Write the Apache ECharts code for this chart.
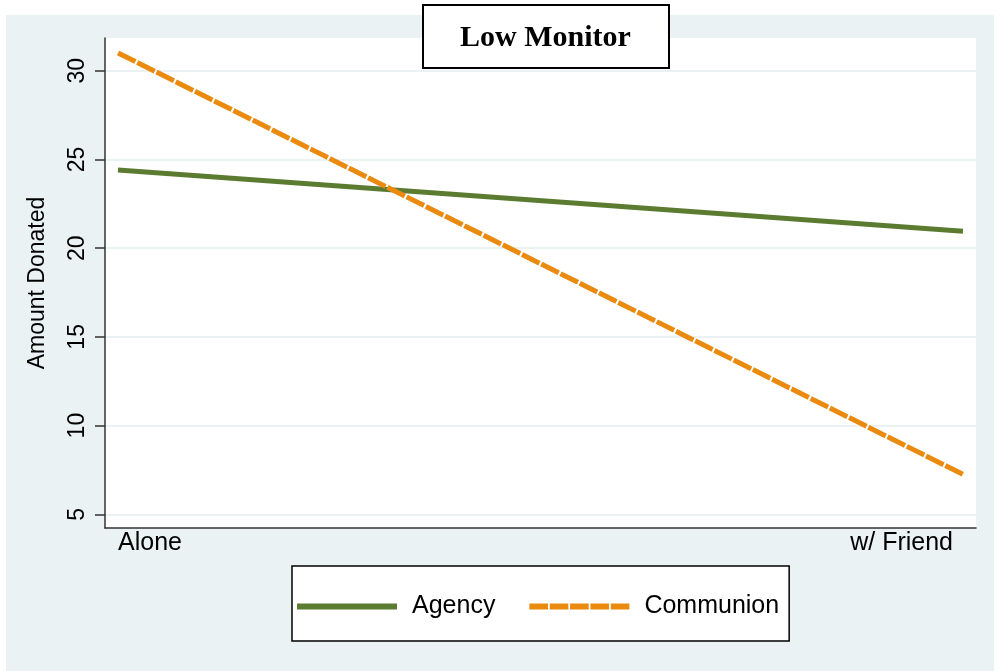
<!DOCTYPE html>
<html>
<head>
<meta charset="utf-8">
<script src="https://cdn.jsdelivr.net/npm/echarts@6/dist/echarts.min.js"></script>
<style>html,body{margin:0;padding:0;background:#fff}#c{width:994px;height:671px}</style>
</head>
<body>
<div id="c"></div>
<script>
const categories = ['Alone', 'w/ Friend'];
const agency = [24.4, 20.95];
const communion = [31.0, 7.25];
const yTicks = [5, 10, 15, 20, 25, 30];
const xTicks = [0, 1];

const chart = echarts.init(document.getElementById('c'));
const toPairs = arr => arr.map((v, i) => [i, v]);
const font = 'Liberation Sans, Arial, sans-serif';
const GREEN = '#5B7B31';
const ORANGE = '#EA8A0F';

chart.setOption({
  animation: false,
  backgroundColor: '#ffffff',
  graphic: [{
    type: 'rect', z: -10, silent: true,
    shape: { x: 6, y: 15, width: 988, height: 656 },
    style: { fill: '#EAF2F3' }
  }],
  title: {
    text: 'Low Monitor',
    left: 423, top: 5,
    padding: [18, 38, 15, 37],
    backgroundColor: '#ffffff',
    borderColor: '#000000',
    borderWidth: 2,
    textStyle: { fontFamily: 'Liberation Serif, Times New Roman, serif', fontWeight: 'bold', fontSize: 30, color: '#000', lineHeight: 30 }
  },
  grid: {
    left: 105, right: 18, top: 38, bottom: 143,
    show: true, backgroundColor: '#ffffff', borderWidth: 0
  },
  legend: {
    left: 292, top: 566,
    padding: [28, 10, 22, 5],
    backgroundColor: '#ffffff',
    borderColor: '#000000', borderWidth: 1.5,
    itemWidth: 100, itemHeight: 6, itemGap: 34,
    symbolKeepAspect: false,
    textStyle: { fontFamily: font, fontSize: 25, color: '#000', padding: [0, 0, 0, 10] },
    data: [
      { name: 'Agency', icon: 'path://M0,0h100v6h-100z', itemStyle: { color: GREEN } },
      { name: 'Communion', icon: 'path://M0,0h18.6v6h-18.6z M20.35,0h18.6v6h-18.6z M40.7,0h18.6v6h-18.6z M61.05,0h18.6v6h-18.6z M81.4,0h18.6v6h-18.6z', itemStyle: { color: ORANGE } }
    ]
  },
  xAxis: {
    type: 'value',
    min: -0.0154, max: 1.0154,
    axisLine: { show: true, onZero: false, lineStyle: { color: '#333', width: 1.5 } },
    axisTick: { show: false },
    splitLine: { show: false },
    axisLabel: {
      customValues: xTicks,
      formatter: v => {
        const i = Math.round(v);
        return i === categories.length - 1 ? '{r|' + categories[i] + '}' : categories[i];
      },
      rich: { r: { fontFamily: font, fontSize: 25, color: '#000', padding: [0, 10, 0, 0] } },
      fontFamily: font, fontSize: 25, color: '#000', margin: 3,
      alignMinLabel: 'left', alignMaxLabel: 'right',
      showMinLabel: true, showMaxLabel: true
    }
  },
  yAxis: {
    type: 'value',
    min: 4.23, max: 31.84,
    name: 'Amount Donated',
    nameLocation: 'middle',
    nameGap: 56,
    nameTextStyle: { fontFamily: font, fontSize: 23, color: '#000' },
    axisLine: { show: true, onZero: false, lineStyle: { color: '#333', width: 1.5 } },
    axisTick: { show: true, customValues: yTicks, length: 10, lineStyle: { color: '#333', width: 1.5 } },
    splitLine: { show: true, lineStyle: { color: '#EAF2F3', width: 2 } },
    axisLabel: {
      customValues: yTicks,
      rotate: 90,
      hideOverlap: false,
      fontFamily: font, fontSize: 23, color: '#000', margin: 16
    }
  },
  series: [
    {
      name: 'Agency', type: 'line', data: toPairs(agency), symbol: 'none',
      lineStyle: { color: GREEN, width: 5 }, itemStyle: { color: GREEN }
    },
    {
      name: 'Communion', type: 'line', data: toPairs(communion), symbol: 'none',
      lineStyle: { color: ORANGE, width: 5, type: [19.5, 2] }, itemStyle: { color: ORANGE }
    }
  ]
});
</script>
</body>
</html>
